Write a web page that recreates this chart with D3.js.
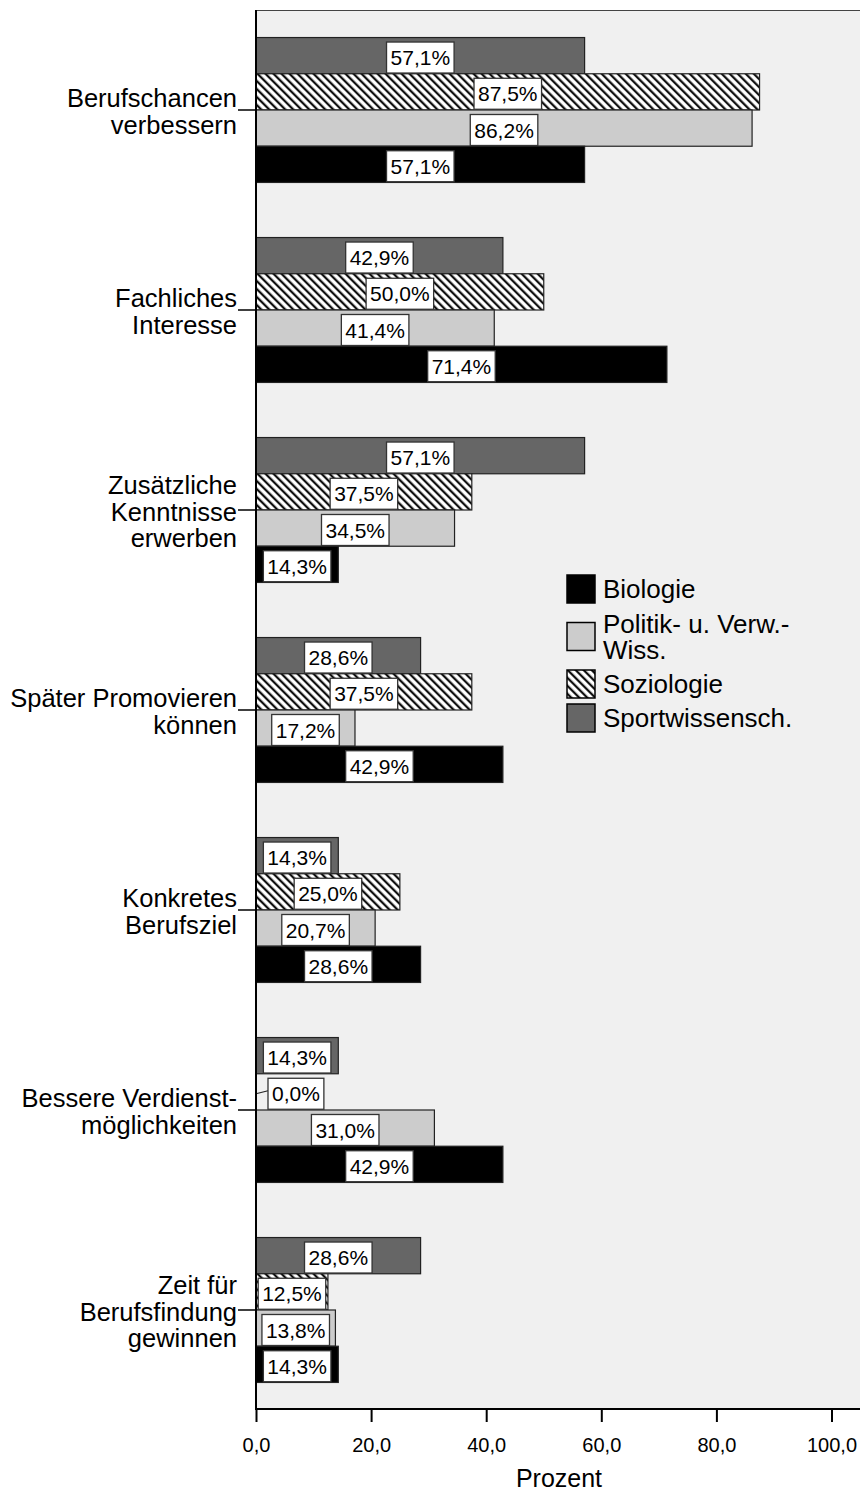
<!DOCTYPE html>
<html>
<head>
<meta charset="utf-8">
<script src="https://cdn.jsdelivr.net/npm/d3@7"></script>
<style>
  html, body { margin: 0; padding: 0; background: #fff; }
  svg { display: block; font-family: "Liberation Sans", Arial, sans-serif; }
</style>
</head>
<body>
<svg id="chart"></svg>
<script>
// Kategorien (y-Achse), zeilenweise umbrochen wie im Original
const categories = [
  'Berufschancen|verbessern',
  'Fachliches|Interesse',
  'Zusätzliche|Kenntnisse|erwerben',
  'Später Promovieren|können',
  'Konkretes|Berufsziel',
  'Bessere Verdienst-|möglichkeiten',
  'Zeit für|Berufsfindung|gewinnen'
]
// Reihenfolge der Balken von oben nach unten
const seriesOrder = ['Sportwissensch.', 'Soziologie', 'Politik- u. Verw.-|Wiss.', 'Biologie']
// Reihenfolge in der Legende
const legendOrder = ['Biologie', 'Politik- u. Verw.-|Wiss.', 'Soziologie', 'Sportwissensch.']

// Prozentwerte je Studienfach
const biologie = [57.1, 71.4, 14.3, 42.9, 28.6, 42.9, 14.3]
const politik = [86.2, 41.4, 34.5, 17.2, 20.7, 31.0, 13.8]
const soziologie = [87.5, 50.0, 37.5, 37.5, 25.0, 0.0, 12.5]
const sport = [57.1, 42.9, 57.1, 28.6, 14.3, 14.3, 28.6]

const xTicks = [0, 20, 40, 60, 80, 100]

const width = 860
const height = 1492
const plot = { left: 256, top: 10, bottom: 1409, right: 860 }

const seriesValues = {
  'Biologie': biologie,
  'Politik- u. Verw.-|Wiss.': politik,
  'Soziologie': soziologie,
  'Sportwissensch.': sport
}
const fills = {
  'Biologie': '#000',
  'Politik- u. Verw.-|Wiss.': '#cccccc',
  'Soziologie': 'url(#hatch)',
  'Sportwissensch.': '#666666'
}

const svg = d3.select('#chart').attr('width', width).attr('height', height)

// Schraffur fuer Soziologie
const defs = svg.append('defs')
const pat = defs.append('pattern')
  .attr('id', 'hatch')
  .attr('patternUnits', 'userSpaceOnUse')
  .attr('width', 5.66)
  .attr('height', 5.66)
  .attr('patternTransform', 'rotate(-45)')
pat.append('rect').attr('width', 5.66).attr('height', 5.66).attr('fill', '#fff')
pat.append('line')
  .attr('x1', 1.2).attr('x2', 1.2).attr('y1', 0).attr('y2', 5.66)
  .attr('stroke', '#000').attr('stroke-width', 2.1)

// Plotflaeche
svg.append('rect')
  .attr('x', plot.left).attr('y', plot.top)
  .attr('width', plot.right - plot.left).attr('height', plot.bottom - plot.top)
  .attr('fill', '#f0f0f0')
svg.append('line')
  .attr('x1', plot.left).attr('x2', plot.right)
  .attr('y1', plot.top + 0.5).attr('y2', plot.top + 0.5)
  .attr('stroke', '#444').attr('stroke-width', 1)

const x = d3.scaleLinear().domain([0, 100]).range([plot.left, 831.5])
const y0 = d3.scaleBand().domain(d3.range(categories.length)).range([plot.top, plot.bottom + 1])
const y1 = d3.scaleBand().domain(seriesOrder).range([0, y0.bandwidth()]).paddingOuter(0.76)

// Balken
const groups = svg.append('g').attr('class', 'bars')
  .selectAll('g').data(categories).enter().append('g')
  .attr('transform', (d, i) => `translate(0,${y0(i)})`)

groups.each(function (cat, ci) {
  const g = d3.select(this)
  seriesOrder.forEach(s => {
    const v = seriesValues[s][ci]
    g.append('rect')
      .attr('x', x(0))
      .attr('y', y1(s))
      .attr('width', x(v) - x(0))
      .attr('height', y1.bandwidth())
      .attr('fill', fills[s])
      .attr('stroke', '#222')
      .attr('stroke-width', 1.2)
  })
})

// Wertebeschriftungen
groups.each(function (cat, ci) {
  const g = d3.select(this)
  seriesOrder.forEach(s => {
    const v = seriesValues[s][ci]
    const txt = d3.format('.1f')(v).replace('.', ',') + '%'
    const top = y1(s) + 4.5
    const cy = top + 15.5
    const lab = g.append('g')
    const t = lab.append('text')
      .attr('font-size', 21)
      .attr('text-anchor', 'middle')
      .attr('dy', '0.36em')
      .attr('fill', '#000')
      .text(txt)
    const w = t.node().getComputedTextLength() + 8
    let cx = x(v / 2)
    if (v === 0) {
      cx = x(0) + 12 + w / 2
      lab.insert('line', 'text')
        .attr('x1', x(0)).attr('x2', x(0) + 12)
        .attr('y1', cy).attr('y2', cy - 3)
        .attr('stroke', '#222').attr('stroke-width', 1.2)
    }
    t.attr('x', cx).attr('y', cy)
    lab.insert('rect', 'text')
      .attr('x', cx - w / 2)
      .attr('y', top)
      .attr('width', w)
      .attr('height', 31)
      .attr('fill', '#fff')
      .attr('stroke', '#333')
      .attr('stroke-width', 1.3)
  })
})

// y-Achse
svg.append('line')
  .attr('x1', plot.left).attr('x2', plot.left)
  .attr('y1', plot.top).attr('y2', plot.bottom)
  .attr('stroke', '#000').attr('stroke-width', 2)

const yLab = svg.append('g').attr('class', 'y-labels')
categories.forEach((cat, i) => {
  const cy = y0(i) + y0.bandwidth() / 2
  yLab.append('line')
    .attr('x1', 238).attr('x2', plot.left)
    .attr('y1', cy).attr('y2', cy)
    .attr('stroke', '#000').attr('stroke-width', 1.5)
  const lines = cat.split('|')
  lines.forEach((ln, li) => {
    yLab.append('text')
      .attr('x', 237)
      .attr('y', cy + (li - (lines.length - 1) / 2) * 26.5 + 10.5)
      .attr('text-anchor', 'end')
      .attr('font-size', 25.5)
      .text(ln)
  })
})

// x-Achse
const xAxis = d3.axisBottom(x)
  .tickValues(xTicks)
  .tickSize(13)
  .tickFormat(d => d3.format('.1f')(d).replace('.', ','))
const xg = svg.append('g')
  .attr('transform', `translate(0,${plot.bottom})`)
  .call(xAxis)
xg.select('.domain').remove()
xg.selectAll('.tick line').attr('stroke', '#000').attr('stroke-width', 2)
xg.selectAll('.tick text')
  .attr('font-size', 20)
  .attr('font-family', '"Liberation Sans", Arial, sans-serif')
  .attr('fill', '#000')
  .attr('y', 29)
svg.append('line')
  .attr('x1', plot.left - 1).attr('x2', plot.right)
  .attr('y1', plot.bottom).attr('y2', plot.bottom)
  .attr('stroke', '#000').attr('stroke-width', 2)

svg.append('text')
  .attr('x', 559).attr('y', 1487)
  .attr('text-anchor', 'middle')
  .attr('font-size', 25)
  .text('Prozent')

// Legende
const legend = svg.append('g').attr('class', 'legend')
let ly = 572
legendOrder.forEach(s => {
  const lines = s.split('|')
  const h = lines.length * 27 + 7
  const cy = ly + h / 2
  legend.append('rect')
    .attr('x', 567).attr('y', cy - 14)
    .attr('width', 28).attr('height', 28)
    .attr('fill', fills[s])
    .attr('stroke', '#000').attr('stroke-width', 1.5)
  lines.forEach((ln, li) => {
    legend.append('text')
      .attr('x', 603)
      .attr('y', cy + (li - (lines.length - 1) / 2) * 26 + 9)
      .attr('font-size', 26)
      .text(ln)
  })
  ly += h
})
</script>
</body>
</html>
